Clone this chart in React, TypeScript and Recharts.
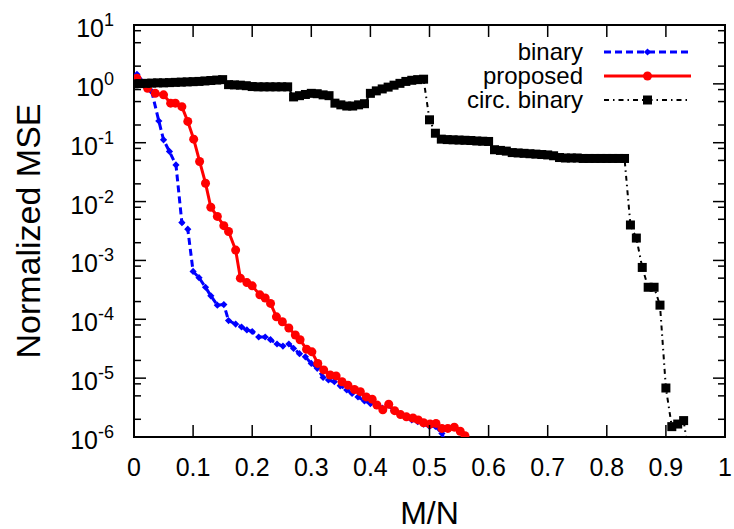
import React from 'react';
import { LineChart, Line, XAxis, YAxis, Legend, ReferenceArea } from 'recharts';

// binary (blue, dashed)
const BINARY_MN = [0.005, 0.03, 0.042, 0.05, 0.06, 0.071, 0.081, 0.091, 0.1, 0.11, 0.121, 0.13, 0.141, 0.152, 0.16, 0.172, 0.182, 0.191, 0.2, 0.211, 0.222, 0.231, 0.242, 0.252, 0.262, 0.27, 0.28, 0.29, 0.3, 0.31, 0.32, 0.329, 0.339, 0.349, 0.36, 0.369, 0.379, 0.39, 0.4, 0.41, 0.42, 0.43, 0.439, 0.45, 0.461, 0.47, 0.48, 0.49, 0.5, 0.51, 0.521, 0.531];
const BINARY_MSE = [1.45, 0.74, 0.234, 0.112, 0.071, 0.042, 0.0044, 0.0034, 6.5e-4, 5.1e-4, 3.5e-4, 2.5e-4, 1.74e-4, 1.78e-4, 9.5e-5, 8.3e-5, 7.4e-5, 6.6e-5, 6.2e-5, 5.0e-5, 5.0e-5, 4.5e-5, 3.8e-5, 3.5e-5, 3.8e-5, 3.2e-5, 2.6e-5, 2.3e-5, 1.78e-5, 1.47e-5, 1.03e-5, 9.3e-6, 8.7e-6, 7.4e-6, 6.3e-6, 5.5e-6, 4.8e-6, 4.1e-6, 3.7e-6, 3.4e-6, 3.1e-6, 3.5e-6, 2.8e-6, 2.4e-6, 2.2e-6, 1.95e-6, 1.82e-6, 1.66e-6, 1.51e-6, 1.51e-6, 1.15e-6, 6e-7];

// proposed (red, solid)
const PROPOSED_MN = [0.005, 0.023, 0.036, 0.05, 0.062, 0.07, 0.081, 0.091, 0.101, 0.111, 0.121, 0.13, 0.141, 0.152, 0.16, 0.172, 0.18, 0.191, 0.2, 0.213, 0.222, 0.231, 0.241, 0.251, 0.262, 0.273, 0.281, 0.292, 0.301, 0.311, 0.321, 0.332, 0.342, 0.352, 0.362, 0.373, 0.383, 0.393, 0.403, 0.411, 0.421, 0.431, 0.441, 0.451, 0.461, 0.472, 0.481, 0.49, 0.501, 0.511, 0.521, 0.531, 0.542, 0.552, 0.56, 0.57];
const PROPOSED_MSE = [1.25, 0.84, 0.69, 0.65, 0.47, 0.47, 0.41, 0.23, 0.115, 0.048, 0.0205, 0.008, 0.0056, 0.0039, 0.0031, 0.0015, 5.0e-4, 4.2e-4, 3.7e-4, 2.6e-4, 2.3e-4, 1.86e-4, 1.1e-4, 9.1e-5, 7.1e-5, 5.4e-5, 4.5e-5, 3.1e-5, 2.8e-5, 1.78e-5, 1.38e-5, 1.13e-5, 1.09e-5, 8.7e-6, 7.6e-6, 6.4e-6, 5.9e-6, 4.8e-6, 4.4e-6, 3.5e-6, 2.9e-6, 3.6e-6, 2.8e-6, 2.4e-6, 2.2e-6, 2.1e-6, 1.95e-6, 1.75e-6, 1.66e-6, 1.7e-6, 1.4e-6, 1.4e-6, 1.47e-6, 1.25e-6, 1.05e-6, 7e-7];

// circ. binary (black, dash-dot)
const CIRC_MN = [0, 0.01, 0.02, 0.03, 0.04, 0.05, 0.06, 0.07, 0.08, 0.09, 0.1, 0.11, 0.12, 0.13, 0.14, 0.15, 0.16, 0.17, 0.18, 0.19, 0.2, 0.21, 0.22, 0.23, 0.24, 0.25, 0.26, 0.27, 0.28, 0.29, 0.3, 0.31, 0.32, 0.33, 0.34, 0.35, 0.36, 0.37, 0.38, 0.39, 0.4, 0.41, 0.42, 0.43, 0.44, 0.45, 0.46, 0.47, 0.48, 0.49, 0.5, 0.51, 0.52, 0.53, 0.54, 0.55, 0.56, 0.57, 0.58, 0.59, 0.6, 0.61, 0.62, 0.63, 0.64, 0.65, 0.66, 0.67, 0.68, 0.69, 0.7, 0.71, 0.72, 0.73, 0.74, 0.75, 0.76, 0.77, 0.78, 0.79, 0.8, 0.81, 0.82, 0.83, 0.84, 0.85, 0.86, 0.87, 0.88, 0.89, 0.9, 0.91, 0.92, 0.93, 0.94];
const CIRC_MSE = [1.0, 1.01, 1.02, 1.03, 1.04, 1.04, 1.05, 1.06, 1.07, 1.08, 1.09, 1.1, 1.12, 1.14, 1.16, 1.18, 0.97, 0.96, 0.95, 0.93, 0.9, 0.89, 0.89, 0.89, 0.89, 0.89, 0.89, 0.6, 0.63, 0.66, 0.69, 0.68, 0.65, 0.63, 0.47, 0.44, 0.42, 0.42, 0.44, 0.46, 0.69, 0.76, 0.82, 0.88, 0.95, 1.02, 1.1, 1.15, 1.18, 1.2, 0.245, 0.145, 0.115, 0.113, 0.112, 0.111, 0.11, 0.109, 0.107, 0.106, 0.105, 0.076, 0.074, 0.072, 0.068, 0.067, 0.066, 0.065, 0.064, 0.063, 0.062, 0.06, 0.056, 0.055, 0.055, 0.055, 0.054, 0.054, 0.054, 0.054, 0.054, 0.054, 0.054, 0.054, 0.004, 0.0024, 7.6e-4, 3.5e-4, 3.5e-4, 1.74e-4, 6.8e-6, 1.5e-6, 1.66e-6, 1.9e-6, 4e-7];

const X_TICKS = [0, 0.1, 0.2, 0.3, 0.4, 0.5, 0.6, 0.7, 0.8, 0.9, 1];
const Y_TICKS = [1e-6, 2e-6, 5e-6, 8e-6, 1e-5, 2e-5, 5e-5, 8e-5, 1e-4, 2e-4, 5e-4, 8e-4, 1e-3, 2e-3, 5e-3, 8e-3, 1e-2, 2e-2, 5e-2, 8e-2, 0.1, 0.2, 0.5, 0.8, 1, 2, 5, 8, 10];

const zip = (xs: number[], ys: number[]) => xs.map((x, i) => ({ mn: x, mse: ys[i] }));
const binaryData = zip(BINARY_MN, BINARY_MSE);
const proposedData = zip(PROPOSED_MN, PROPOSED_MSE);
const circData = zip(CIRC_MN, CIRC_MSE);

const W = 734;
const H = 529;
const MARGIN = { top: 25, right: 9, bottom: 0, left: 0 };
const Y_AXIS_W = 134;
const X_AXIS_H = 92;
const PLOT_LEFT = MARGIN.left + Y_AXIS_W;
const PLOT_RIGHT = W - MARGIN.right;
const PLOT_TOP = MARGIN.top;
const PLOT_BOTTOM = H - MARGIN.bottom - X_AXIS_H;

const FONT = '"Liberation Sans", Arial, Helvetica, sans-serif';
const BLUE = '#0000ff';
const RED = '#ff0000';
const BLACK = '#000000';

const MAJOR = 12;
const MINOR = 7;

function YTick(props: any) {
  const { y, payload } = props;
  const v = payload.value;
  const exp = Math.floor(Math.log10(v) + 1e-9);
  const mant = v / Math.pow(10, exp);
  const major = Math.abs(mant - 1) < 1e-6;
  const len = major ? MAJOR : MINOR;
  return (
    <g>
      <line x1={PLOT_LEFT} x2={PLOT_LEFT + len} y1={y} y2={y} stroke={BLACK} strokeWidth={1.5} />
      <line x1={PLOT_RIGHT - len} x2={PLOT_RIGHT} y1={y} y2={y} stroke={BLACK} strokeWidth={1.5} />
      {major && (
        <text x={PLOT_LEFT - 20} y={y + 12} textAnchor="end" fontSize={25} fontFamily={FONT} fill={BLACK}>
          10<tspan dy={-11} fontSize={18}>{String(exp)}</tspan>
        </text>
      )}
    </g>
  );
}

function XTick(props: any) {
  const { x, payload } = props;
  const v = payload.value;
  const label = v === 0 ? '0' : v === 1 ? '1' : v.toFixed(1);
  return (
    <g>
      <line x1={x} x2={x} y1={PLOT_BOTTOM} y2={PLOT_BOTTOM - MAJOR} stroke={BLACK} strokeWidth={1.5} />
      <line x1={x} x2={x} y1={PLOT_TOP} y2={PLOT_TOP + MAJOR} stroke={BLACK} strokeWidth={1.5} />
      <text x={x} y={PLOT_BOTTOM + 39} textAnchor="middle" fontSize={25} fontFamily={FONT} fill={BLACK}>
        {label}
      </text>
    </g>
  );
}

const diamond = (cx: number, cy: number, r: number) => `M${cx},${cy - r}L${cx + r},${cy}L${cx},${cy + r}L${cx - r},${cy}Z`;

function BinaryDot(props: any) {
  const { cx, cy, index } = props;
  if (cx == null || cy == null) return <g key={index} />;
  return <path key={index} d={diamond(cx, cy, 3.6)} fill={BLUE} />;
}

function ProposedDot(props: any) {
  const { cx, cy, index } = props;
  if (cx == null || cy == null) return <g key={index} />;
  return <circle key={index} cx={cx} cy={cy} r={4.5} fill={RED} />;
}

function CircDot(props: any) {
  const { cx, cy, index } = props;
  if (cx == null || cy == null) return <g key={index} />;
  return <rect key={index} x={cx - 4.5} y={cy - 4.5} width={9} height={9} fill={BLACK} />;
}

const LEGEND_ROWS = [
  { label: 'binary', color: BLUE, dash: '7 4', width: 3, mark: 'diamond' },
  { label: 'proposed', color: RED, dash: undefined, width: 3, mark: 'circle' },
  { label: 'circ. binary', color: BLACK, dash: '5 4 1.5 4', width: 2, mark: 'square' },
];

function renderLegend() {
  return (
    <svg width={300} height={80} style={{ display: 'block', overflow: 'visible' }}>
      {LEGEND_ROWS.map((r, i) => {
        const cy = 14 + i * 24;
        const x1 = 184;
        const x2 = 271;
        const mx = (x1 + x2) / 2;
        return (
          <g key={r.label}>
            <text x={163} y={cy + 8} textAnchor="end" fontSize={24} fontFamily={FONT} fill={BLACK}>
              {r.label}
            </text>
            <line x1={x1} x2={x2} y1={cy} y2={cy} stroke={r.color} strokeWidth={r.width} strokeDasharray={r.dash} />
            {r.mark === 'diamond' && <path d={diamond(mx, cy, 3.6)} fill={r.color} />}
            {r.mark === 'circle' && <circle cx={mx} cy={cy} r={4.5} fill={r.color} />}
            {r.mark === 'square' && <rect x={mx - 4.5} y={cy - 4.5} width={9} height={9} fill={r.color} />}
          </g>
        );
      })}
    </svg>
  );
}

function YLabel(props: any) {
  const { viewBox } = props;
  const x = viewBox.x + 40;
  const y = viewBox.y + viewBox.height / 2;
  return (
    <text x={x} y={y} transform={`rotate(-90 ${x} ${y})`} textAnchor="middle" fontSize={34} fontFamily={FONT} fill={BLACK}>
      Normalized MSE
    </text>
  );
}

function XLabel(props: any) {
  const { viewBox } = props;
  const x = viewBox.x + viewBox.width / 2;
  return (
    <text x={x} y={viewBox.y + 87} textAnchor="middle" fontSize={32} fontFamily={FONT} fill={BLACK}>
      M/N
    </text>
  );
}

export default function App() {
  return (
    <div style={{ position: 'absolute', left: 0, top: 0, width: W, height: H, background: '#fff' }}>
      <LineChart width={W} height={H} margin={MARGIN}>
        <XAxis
          dataKey="mn"
          type="number"
          domain={[0, 1]}
          ticks={X_TICKS}
          interval={0}
          height={X_AXIS_H}
          axisLine={false}
          tickLine={false}
          tick={XTick}
          allowDataOverflow
          label={XLabel}
        />
        <YAxis
          dataKey="mse"
          type="number"
          scale="log"
          domain={[1e-6, 10]}
          ticks={Y_TICKS}
          interval={0}
          width={Y_AXIS_W}
          axisLine={false}
          tickLine={false}
          tick={YTick}
          allowDataOverflow
          label={YLabel}
        />
        <ReferenceArea x1={0} x2={1} y1={1e-6} y2={10} fill="none" stroke={BLACK} strokeWidth={2} />
        <Line
          data={binaryData}
          dataKey="mse"
          type="linear"
          stroke={BLUE}
          strokeWidth={3}
          strokeDasharray="7 4"
          dot={BinaryDot}
          activeDot={false}
          isAnimationActive={false}
          legendType="none"
        />
        <Line
          data={proposedData}
          dataKey="mse"
          type="linear"
          stroke={RED}
          strokeWidth={3}
          dot={ProposedDot}
          activeDot={false}
          isAnimationActive={false}
          legendType="none"
        />
        <Line
          data={circData}
          dataKey="mse"
          type="linear"
          stroke={BLACK}
          strokeWidth={2}
          strokeDasharray="5 4 1.5 4"
          dot={CircDot}
          activeDot={false}
          isAnimationActive={false}
          legendType="none"
        />
        <Legend
          layout="horizontal"
          verticalAlign="middle"
          align="center"
          content={renderLegend}
          wrapperStyle={{ left: 420, top: 38, width: 300, height: 80 }}
        />
      </LineChart>
    </div>
  );
}
